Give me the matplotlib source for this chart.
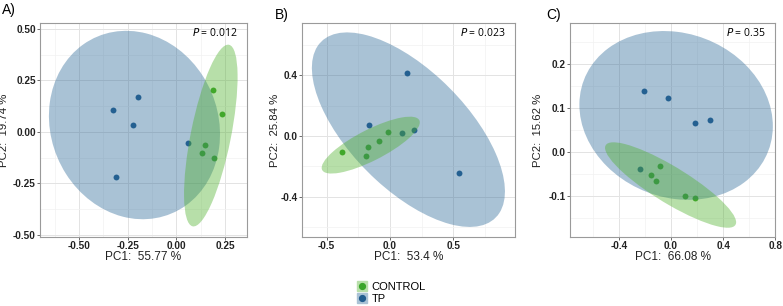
import matplotlib
matplotlib.use("Agg")
import matplotlib.pyplot as plt
import numpy as np
from matplotlib.patches import Ellipse
from matplotlib.lines import Line2D
from matplotlib.ticker import FixedLocator

plt.rcParams['font.family'] = ['Liberation Sans', 'DejaVu Sans']

# PCA scores
a_tp_x = [-0.325, -0.195, -0.224, -0.309, 0.058]
a_tp_y = [0.107, 0.167, 0.031, -0.219, -0.052]
a_ct_x = [0.190, 0.235, 0.145, 0.133, 0.195]
a_ct_y = [0.201, 0.085, -0.066, -0.103, -0.127]

b_tp_x = [0.134, -0.163, 0.095, 0.187, 0.545]
b_tp_y = [0.415, 0.075, 0.018, 0.042, -0.243]
b_ct_x = [-0.376, -0.176, -0.189, -0.084, -0.016]
b_ct_y = [-0.108, -0.073, -0.130, -0.035, 0.027]

c_tp_x = [-0.205, -0.023, 0.185, 0.300, -0.238]
c_tp_y = [0.1375, 0.122, 0.065, 0.072, -0.038]
c_ct_x = [-0.082, -0.151, -0.113, 0.110, 0.182]
c_ct_y = [-0.031, -0.052, -0.066, -0.0995, -0.104]

# confidence ellipses: centre x, centre y, semi-major, semi-minor, angle (deg)
a_tp_ell = [-0.215, 0.033, 0.471, 0.424, -56]
a_ct_ell = [0.177, -0.018, 0.45, 0.103, 78]
b_tp_ell = [0.145, 0.042, 0.904, 0.418, -37.5]
b_ct_ell = [-0.152, -0.060, 0.417, 0.105, 22.7]
c_tp_ell = [0.0385, 0.083, 0.744, 0.19, -2]
c_ct_ell = [-0.004, -0.075, 0.511, 0.047, -9.6]

pc1 = ["55.77", "53.4", "66.08"]
pc2 = ["19.74", "25.84", "15.62"]
pvals = ["0.012", "0.023", "0.35"]
panel_tags = ["A)", "B)", "C)"]

blue = '#215d8e'
green = '#3aa52a'
blue_fill = '#2a6796'
green_fill = '#4daf2a'

fig = plt.figure(figsize=(7.83, 3.06), dpi=100)
ax_a = fig.add_axes([0.0511, 0.2255, 0.2644, 0.6995])
ax_b = fig.add_axes([0.386, 0.2255, 0.272, 0.6995])
ax_c = fig.add_axes([0.728, 0.2255, 0.262, 0.6995])

panels = [
    (ax_a, a_tp_x, a_tp_y, a_ct_x, a_ct_y, a_tp_ell, a_ct_ell,
     (-0.70, 0.363), (-0.51, 0.528),
     [-0.5, -0.25, 0, 0.25], [-0.5, -0.25, 0, 0.25, 0.5],
     [-0.625, -0.375, -0.125, 0.125], [-0.375, -0.125, 0.125, 0.375], "%.2f", "%.2f", -0.148),
    (ax_b, b_tp_x, b_tp_y, b_ct_x, b_ct_y, b_tp_ell, b_ct_ell,
     (-0.692, 0.987), (-0.667, 0.747),
     [-0.5, 0, 0.5], [-0.4, 0, 0.4],
     [-0.25, 0.25, 0.75], [-0.6, -0.2, 0.2, 0.6], "%.1f", "%.1f", -0.105),
    (ax_c, c_tp_x, c_tp_y, c_ct_x, c_ct_y, c_tp_ell, c_ct_ell,
     (-0.777, 0.8), (-0.193, 0.293),
     [-0.4, 0, 0.4, 0.8], [-0.1, 0, 0.1, 0.2],
     [-0.6, -0.2, 0.2, 0.6], [-0.15, -0.05, 0.05, 0.15, 0.25], "%.1f", "%.1f", -0.13),
]

for i, (ax, tx, ty, cx, cy, tell, cell, xl, yl, xt, yt, xm, ym, xf, yf, ylx) in enumerate(panels):
    ax.scatter(tx, ty, s=18, color=blue, zorder=2, linewidths=0)
    ax.scatter(cx, cy, s=18, color=green, zorder=2, linewidths=0)
    ax.add_patch(Ellipse((tell[0], tell[1]), 2*tell[2], 2*tell[3], angle=tell[4],
                         facecolor=blue_fill, alpha=0.4, edgecolor='none', zorder=3))
    ax.add_patch(Ellipse((cell[0], cell[1]), 2*cell[2], 2*cell[3], angle=cell[4],
                         facecolor=green_fill, alpha=0.4, edgecolor='none', zorder=4))
    ax.set_xlim(*xl)
    ax.set_ylim(*yl)
    ax.set_xticks(xt)
    ax.set_yticks(yt)
    ax.set_xticklabels([xf % v for v in xt])
    ax.set_yticklabels([yf % v for v in yt])
    ax.xaxis.set_minor_locator(FixedLocator(xm))
    ax.yaxis.set_minor_locator(FixedLocator(ym))
    ax.grid(True, which='major', color='#e3e3e3', lw=0.7, zorder=0)
    ax.grid(True, which='minor', color='#f2f2f2', lw=0.5, zorder=0)
    ax.set_axisbelow(True)
    ax.tick_params(which='major', length=2, width=0.6, color='#555555', pad=1,
                   labelsize=7.2, labelcolor='#222222')
    ax.tick_params(which='minor', length=0)
    for lab in ax.get_xticklabels() + ax.get_yticklabels():
        lab.set_fontweight('bold')
    for sp in ax.spines.values():
        sp.set_color('#9a9a9a')
        sp.set_linewidth(0.8)
    ax.set_xlabel("PC1:  " + pc1[i] + " %", fontsize=8.5, labelpad=0, color='#222222')
    ax.set_ylabel("PC2:  " + pc2[i] + " %", fontsize=8.2, color='#222222')
    ax.yaxis.set_label_coords(ylx, 0.5)
    ax.text(0.955, 0.955, r"$\it{P}$ = " + pvals[i], transform=ax.transAxes,
            ha='right', va='center', fontsize=7.5, family='Open Sans')

fig.text(0.002, 0.966, panel_tags[0], fontsize=10, va='center')
fig.text(0.351, 0.951, panel_tags[1], fontsize=10, va='center')
fig.text(0.697, 0.951, panel_tags[2], fontsize=10, va='center')

h_ct = (Line2D([], [], marker='s', ls='none', markersize=7.5, color='#b8dfaa'),
        Line2D([], [], marker='o', ls='none', markersize=4.2, color=green))
h_tp = (Line2D([], [], marker='s', ls='none', markersize=7.5, color='#aac2d5'),
        Line2D([], [], marker='o', ls='none', markersize=4.2, color=blue))
fig.legend([h_ct, h_tp], ["CONTROL", "TP"], loc='center', bbox_to_anchor=(0.5, 0.042),
           frameon=False, fontsize=8, handlelength=0.9, handletextpad=0.4,
           labelspacing=0.15, borderaxespad=0, borderpad=0)

fig.savefig("out.png", dpi=100)
